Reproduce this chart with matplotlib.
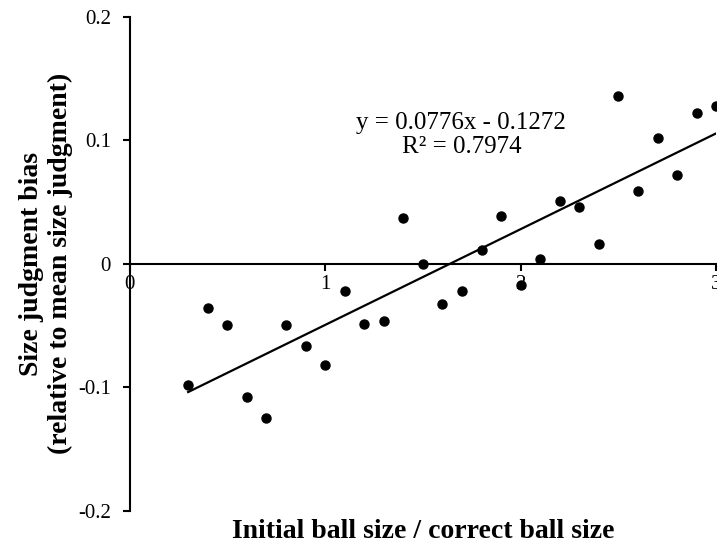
import matplotlib
matplotlib.use('Agg')
import matplotlib.pyplot as plt
import numpy as np

# ---- data ----
x_values = [0.3, 0.4, 0.5, 0.6, 0.7, 0.8, 0.9, 1.0, 1.1, 1.2, 1.3, 1.4, 1.5, 1.6,
            1.7, 1.8, 1.9, 2.0, 2.1, 2.2, 2.3, 2.4, 2.5, 2.6, 2.7, 2.8, 2.9, 3.0]
bias = [-0.098, -0.036, -0.050, -0.108, -0.125, -0.050, -0.067, -0.082, -0.022,
        -0.049, -0.046, 0.037, 0.000, -0.033, -0.022, 0.011, 0.039, -0.017,
        0.004, 0.051, 0.046, 0.016, 0.136, 0.059, 0.102, 0.072, 0.122, 0.128]
slope = 0.0776
intercept = -0.1272
r_squared = 0.7974
x_ticks = [0, 1, 2, 3]
x_tick_labels = ['0', '1', '2', '3']
y_ticks = [-0.2, -0.1, 0.0, 0.1, 0.2]
y_tick_labels = ['-0.2', '-0.1', '0', '0.1', '0.2']

plt.rcParams['font.family'] = ['Liberation Serif', 'DejaVu Serif']

W, H = 717, 544
fig = plt.figure(figsize=(W / 100, H / 100), dpi=100)
left, right, top, bottom = 129.5, 716.3, 16.7, 510.7
ax = fig.add_axes([left / W, 1 - bottom / H, (right - left) / W, (bottom - top) / H])
ax.set_xlim(0, 3)
ax.set_ylim(-0.2, 0.2)

for s in ['top', 'right']:
    ax.spines[s].set_visible(False)
ax.spines['bottom'].set_position(('data', 0))
ax.spines['bottom'].set_linewidth(1.5)
ax.spines['left'].set_linewidth(1.5)

ax.set_xticks(x_ticks)
ax.set_xticklabels(x_tick_labels)
ax.set_yticks(y_ticks)
ax.set_yticklabels(y_tick_labels)
ax.tick_params(axis='both', direction='out', length=5, width=1.5, labelsize=15, colors='black')
ax.tick_params(axis='y', pad=8.5)
ax.tick_params(axis='x', pad=3)

# data points
ax.plot(x_values, bias, 'o', color='black', markersize=6.5, clip_on=False, zorder=3)

# trendline
xl = np.array([min(x_values), max(x_values)])
ax.plot(xl, slope * xl + intercept, color='black', linewidth=1.6, zorder=2)

ax.text(1.697, 0.104, f'y = {slope}x - {abs(intercept)}\nR² = {r_squared}',
        ha='center', va='center', fontsize=18, linespacing=1.12)

fig.text(73 / W, 1 - ((top + bottom) / 2) / H,
         'Size judgment bias\n(relative to mean size judgment)',
         rotation=90, ha='right', va='center', multialignment='center',
         fontsize=20, fontweight='bold', linespacing=1.2)
fig.text((left + right) / 2 / W, 1 - 537.5 / H, 'Initial ball size / correct ball size',
         ha='center', va='baseline', fontsize=20, fontweight='bold')

fig.savefig('out.png', dpi=100)
